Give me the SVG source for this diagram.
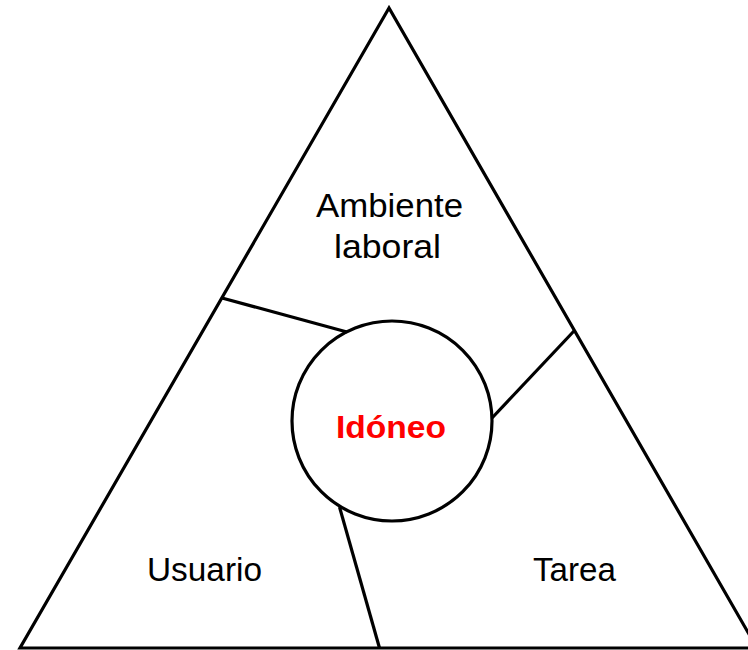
<svg xmlns="http://www.w3.org/2000/svg" width="748" height="650" viewBox="0 0 748 650">
<style>
.ln{fill:none;stroke:#000;stroke-width:3.2;stroke-linejoin:miter}
.lbl{font-family:"Liberation Sans",Arial,sans-serif;font-size:34px;fill:#000;text-anchor:middle}
.ctr{font-family:"Liberation Sans",Arial,sans-serif;font-size:32px;font-weight:bold;fill:#ff0000;text-anchor:middle}
</style>
<rect width="748" height="650" fill="#fff"/>
<g id="triangle">
<polygon class="ln" points="389,8 20,648 757,648"/>
</g>
<g id="connectors">
<line class="ln" x1="222" y1="298" x2="347" y2="332"/>
<line class="ln" x1="574" y1="331" x2="492" y2="418"/>
<line class="ln" x1="339.5" y1="507" x2="379.5" y2="648"/>
</g>
<g id="ambiente">
<text class="lbl" x="389.5" y="217" textLength="147" lengthAdjust="spacingAndGlyphs">Ambiente</text>
<text class="lbl" x="387.5" y="258" textLength="107" lengthAdjust="spacingAndGlyphs">laboral</text>
</g>
<g id="usuario">
<text class="lbl" x="204.5" y="581" textLength="115" lengthAdjust="spacingAndGlyphs">Usuario</text>
</g>
<g id="tarea">
<text class="lbl" x="574.5" y="581" textLength="83" lengthAdjust="spacingAndGlyphs">Tarea</text>
</g>
<g id="idoneo">
<circle class="ln" cx="392" cy="421" r="100"/>
<text class="ctr" x="391" y="437.5" textLength="110" lengthAdjust="spacingAndGlyphs">Idóneo</text>
</g>
</svg>
